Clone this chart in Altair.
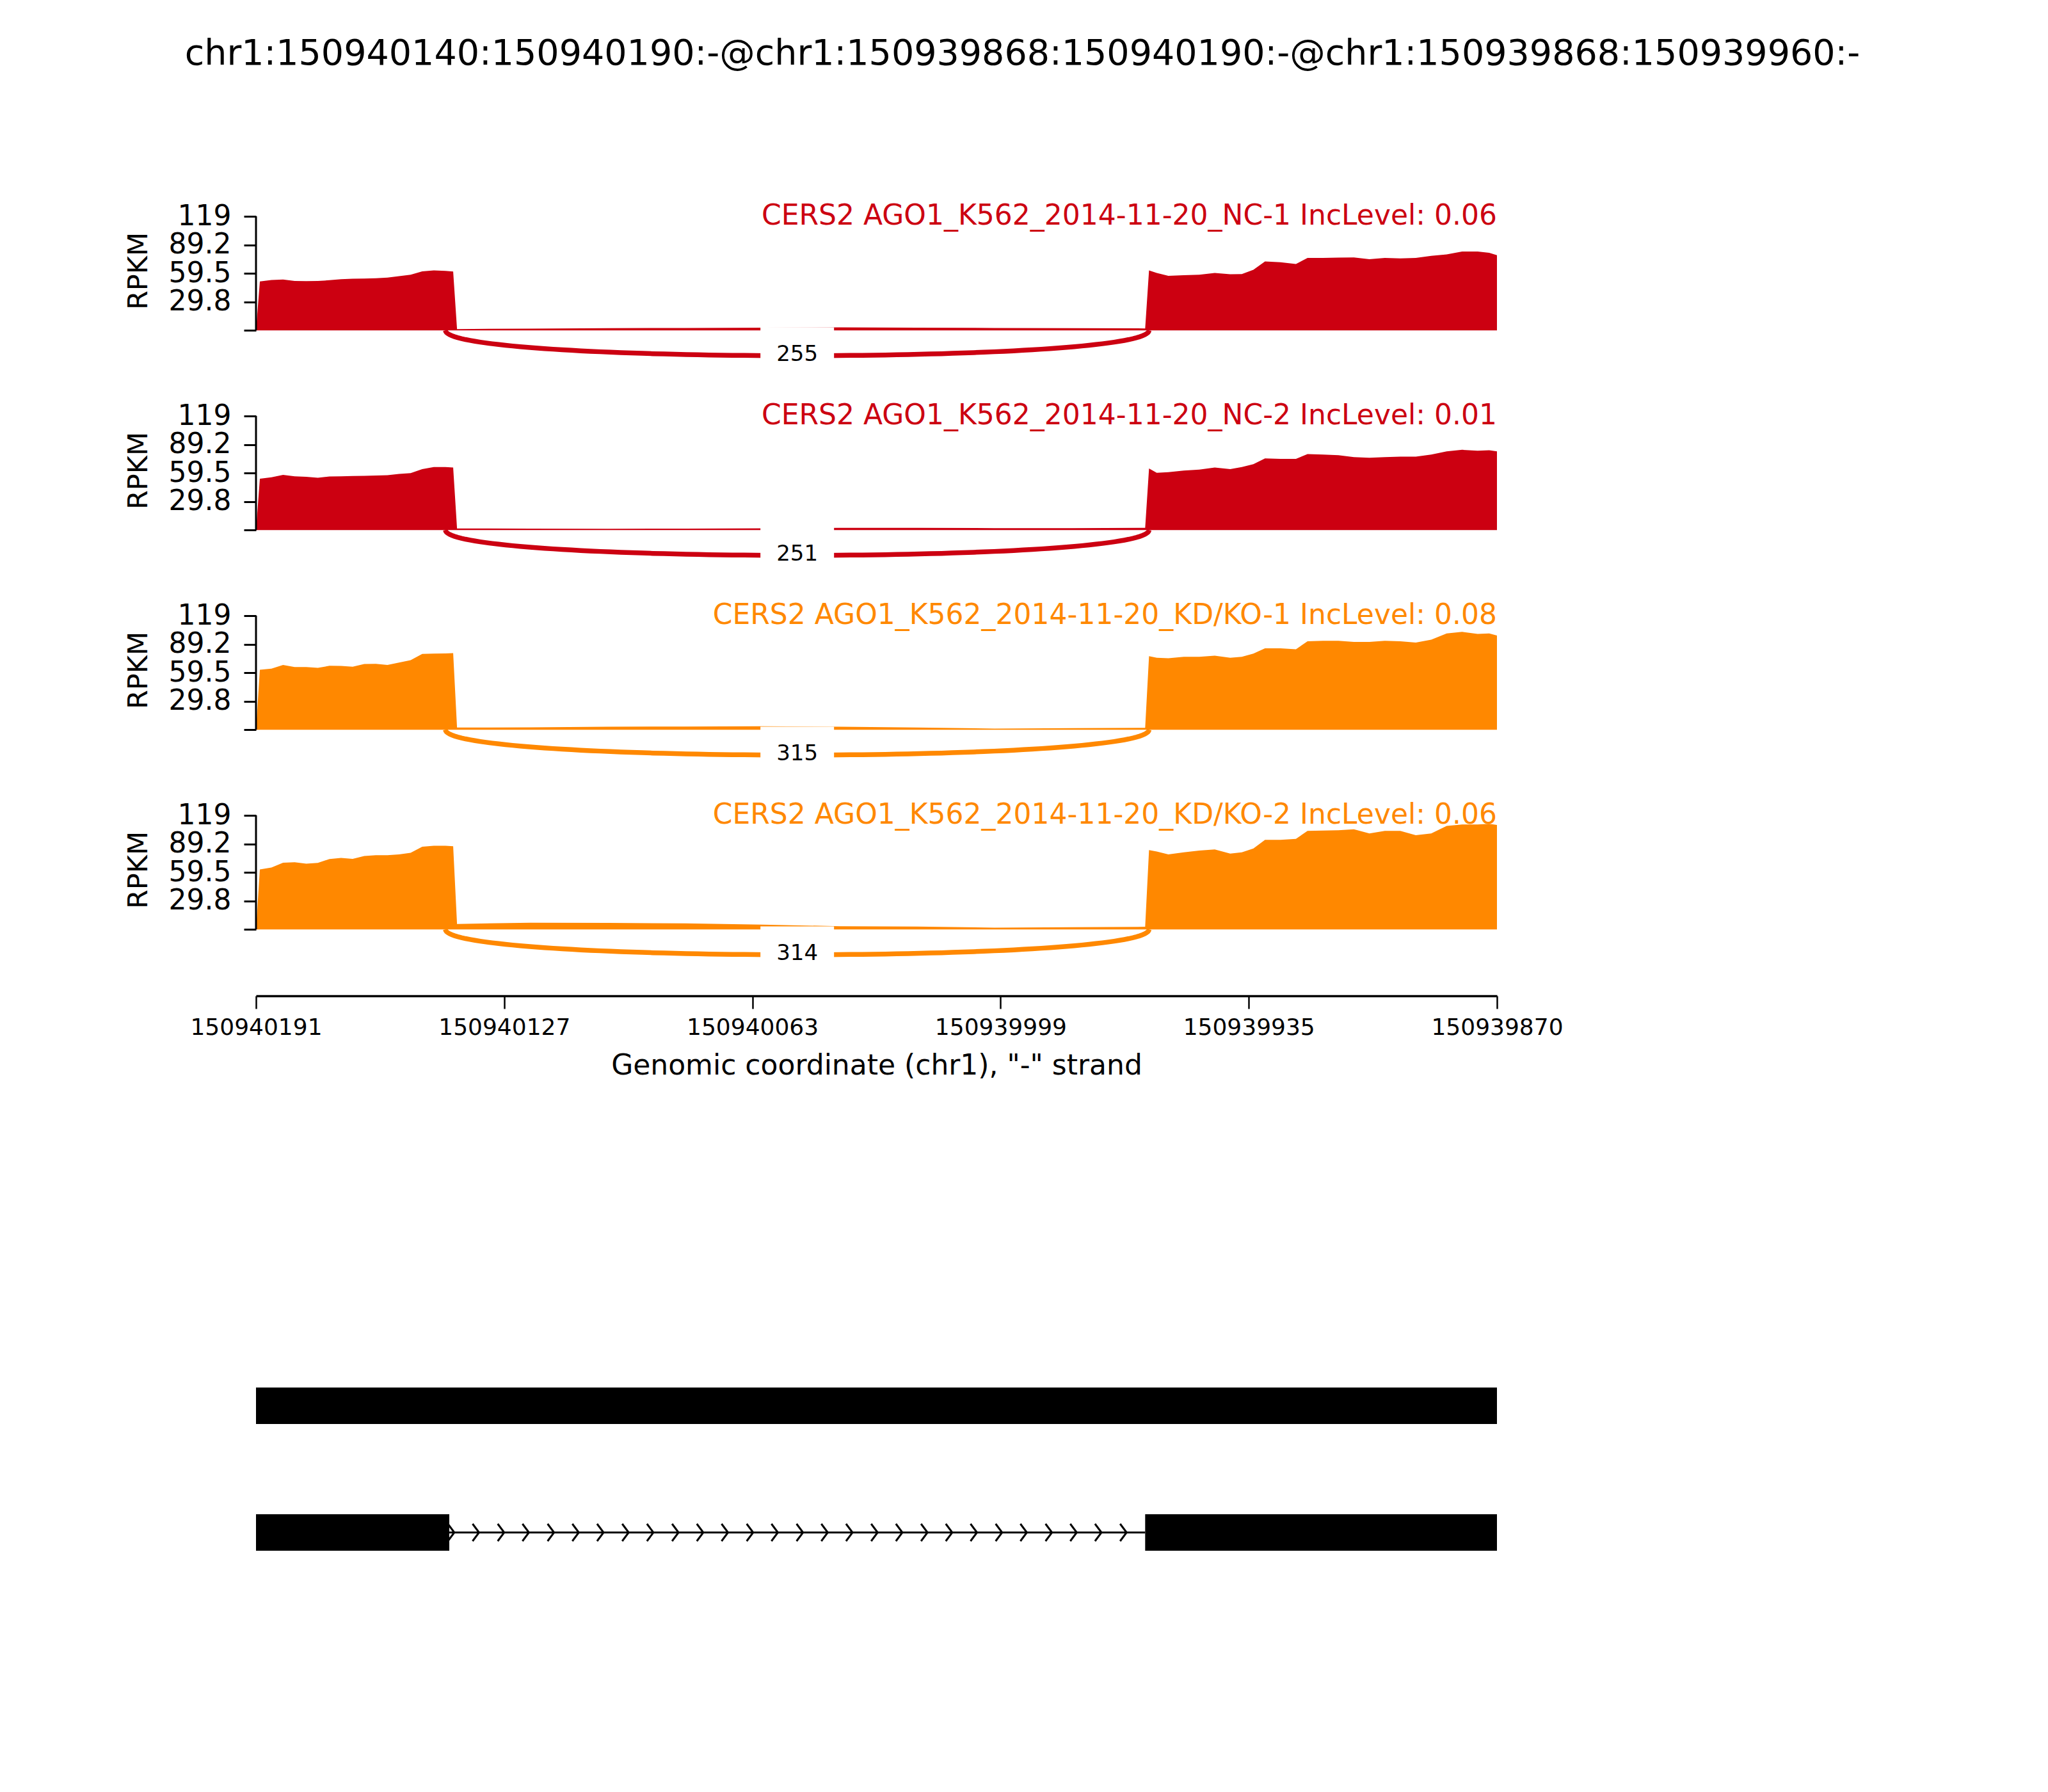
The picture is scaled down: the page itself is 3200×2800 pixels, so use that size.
import altair as alt
import numpy as np
import pandas as pd

FONT = "DejaVu Sans"

# ---------------- data ----------------
title_text = "chr1:150940140:150940190:-@chr1:150939868:150940190:-@chr1:150939868:150939960:-"

sample_labels = [
    "CERS2 AGO1_K562_2014-11-20_NC-1 IncLevel: 0.06",
    "CERS2 AGO1_K562_2014-11-20_NC-2 IncLevel: 0.01",
    "CERS2 AGO1_K562_2014-11-20_KD/KO-1 IncLevel: 0.08",
    "CERS2 AGO1_K562_2014-11-20_KD/KO-2 IncLevel: 0.06",
]
sample_colors = ["#CC0011", "#CC0011", "#FF8800", "#FF8800"]
junction_counts = [255, 251, 315, 314]
junction_left = 150940142
junction_right = 150939960

x_start = 150940191
x_end = 150939870
x_ticks = [150940191, 150940126.8, 150940062.6, 150939998.4, 150939934.2, 150939870]
x_tick_labels = ["150940191", "150940127", "150940063", "150939999", "150939935", "150939870"]
y_ticks = [0, 29.8, 59.5, 89.2, 119]
y_tick_labels = ["", "29.8", "59.5", "89.2", "119"]

exon1_pos = [150940190, 150940187, 150940184, 150940181, 150940178, 150940175,
             150940172, 150940169, 150940166, 150940163, 150940160, 150940157,
             150940154, 150940151, 150940148, 150940145, 150940142, 150940140]
intron_pos = [150940139, 150940120, 150940100, 150940080, 150940060, 150940040,
              150940020, 150940000, 150939980, 150939961]
exon2_pos = [150939960, 150939958, 150939955, 150939951, 150939947, 150939943,
             150939939, 150939936, 150939933, 150939930, 150939926, 150939922,
             150939919, 150939915, 150939911, 150939907, 150939903, 150939899,
             150939895, 150939891, 150939887, 150939883, 150939879, 150939875,
             150939872, 150939870]

exon1_cov = [
    [51.0, 52.5, 53.0, 51.5, 51.3, 51.5, 52.3, 53.3, 53.8, 54.0, 54.3, 55.0, 56.5, 58.0, 61.6, 62.5, 62.0, 61.4],
    [53.5, 55.0, 57.5, 56.0, 55.5, 54.5, 55.8, 56.0, 56.3, 56.5, 56.8, 57.2, 58.5, 59.3, 63.5, 65.8, 65.8, 65.3],
    [62.5, 63.8, 67.5, 65.4, 65.4, 64.5, 66.7, 66.5, 65.8, 68.5, 68.7, 67.5, 70.0, 72.5, 79.0, 79.4, 79.6, 79.9],
    [62.5, 64.5, 69.5, 70.0, 68.5, 69.4, 73.4, 74.5, 73.5, 76.5, 77.4, 77.4, 78.3, 80.0, 86.3, 87.2, 87.2, 86.8],
]
intron_cov = [
    [1.3, 1.8, 2.2, 2.5, 2.7, 3.1, 2.7, 2.5, 2.2, 2.0],
    [1.6, 1.5, 1.3, 1.4, 1.8, 2.2, 2.2, 2.0, 2.0, 2.2],
    [2.2, 2.4, 3.1, 3.3, 3.6, 3.1, 2.2, 1.1, 1.6, 2.0],
    [5.6, 7.0, 6.7, 6.2, 4.9, 3.3, 2.9, 1.8, 2.2, 2.7],
]
exon2_cov = [
    [62.5, 59.8, 56.9, 57.6, 58.0, 59.8, 58.5, 58.7, 63.2, 71.9, 71.0, 69.2, 75.5, 75.5, 75.9, 76.1, 74.3, 75.5, 75.0, 75.5, 77.7, 79.3, 82.2, 82.2, 81.0, 78.4],
    [64.2, 59.7, 60.4, 62.0, 63.1, 65.3, 63.5, 65.8, 68.7, 74.7, 74.3, 74.3, 79.2, 78.7, 78.1, 76.1, 75.4, 76.1, 76.5, 76.5, 78.7, 82.1, 83.7, 82.8, 83.2, 82.1],
    [76.7, 75.0, 74.5, 76.1, 76.1, 77.2, 75.0, 76.1, 79.4, 85.0, 85.0, 83.9, 92.3, 92.8, 92.8, 91.6, 91.6, 92.8, 92.3, 91.0, 93.9, 100.5, 102.1, 99.9, 100.5, 98.3],
    [82.7, 81.2, 78.3, 80.5, 82.3, 83.4, 79.0, 80.5, 84.5, 93.4, 93.4, 94.5, 102.8, 103.2, 103.4, 104.5, 100.1, 102.8, 102.8, 98.3, 100.1, 107.9, 109.4, 109.4, 110.1, 109.0],
]

# gene model: isoform, exon start, exon end (drawn left->right on "-" strand)
iso_names = ["1", "2"]
iso_exon_iso = ["1", "2", "2"]
iso_exon_start = [150940191, 150940191, 150939961]
iso_exon_end = [150939870, 150940141, 150939870]
iso_intron_iso = ["2"]
iso_intron_start = [150940141]
iso_intron_end = [150939961]
chevron_pos = [150940139.7, 150940133.3, 150940126.8, 150940120.4, 150940113.9, 150940107.5,
               150940101.1, 150940094.6, 150940088.2, 150940081.7, 150940075.3, 150940068.9,
               150940062.4, 150940056.0, 150940049.5, 150940043.1, 150940036.7, 150940030.2,
               150940023.8, 150940017.3, 150940010.9, 150940004.5, 150939998.0, 150939991.6,
               150939985.1, 150939978.7, 150939972.3, 150939965.8]

# ---------------- styling ----------------
W = 1939
PANEL_H = 238
GENE_H = 908
Y_MIN = -40
ARC_H = 35.3
LABEL_Y = -25.4
SAMPLE_TEXT_Y = 110

xscale = alt.Scale(domain=[x_end, x_start], reverse=True, nice=False, zero=False)
yscale = alt.Scale(domain=[Y_MIN, y_ticks[-1]], nice=False, zero=False)

y_label_expr = " : ".join(f"datum.value == {v} ? '{l}'" for v, l in zip(y_ticks, y_tick_labels)) + " : ''"
x_label_expr = " : ".join(f"datum.value == {v} ? '{l}'" for v, l in zip(x_ticks, x_tick_labels)) + " : ''"

box_shape = "M-1,-0.74H1V0.74H-1Z"
chev_shape = "M-0.75,-1L0,0L-0.75,1"


def panel(i, show_x):
    color = sample_colors[i]
    cov = pd.DataFrame({
        "x": [x_start] + exon1_pos + intron_pos + exon2_pos,
        "y": [0] + exon1_cov[i] + intron_cov[i] + exon2_cov[i],
    })
    if show_x:
        xaxis = alt.Axis(values=x_ticks, labelExpr=x_label_expr, grid=False,
                         domainColor="black", domainWidth=3.5, tickColor="black",
                         tickWidth=2.5, tickSize=20, labelFontSize=36, labelFont=FONT,
                         labelColor="black", labelPadding=12, labelFlush=False,
                         labelOverlap=False, labelLimit=1000,
                         title='Genomic coordinate (chr1), "-" strand', titleFontSize=44,
                         titleFont=FONT, titleFontWeight="normal", titleColor="black",
                         titlePadding=20, offset=44)
    else:
        xaxis = None
    yaxis = alt.Axis(values=y_ticks, labelExpr=y_label_expr, domain=False, grid=False,
                     tickColor="black", tickWidth=3, tickSize=19, labelFontSize=44,
                     labelFont=FONT, labelColor="black", labelPadding=20,
                     labelOverlap=False,
                     title="RPKM", titleFont=FONT, titleFontSize=43,
                     titleFontWeight="normal", titleColor="black", titleX=-184,
                     titleY=85, titleAlign="center", titleBaseline="middle", titleAngle=270)

    area = alt.Chart(cov).mark_area(color=color, interpolate="linear")

    spine_df = pd.DataFrame({"x": [x_start], "y": [y_ticks[0]], "y2": [y_ticks[-1]]})
    spine = alt.Chart(spine_df).mark_rule(color="black", strokeWidth=3).encode(y2="y2:Q")

    t = np.linspace(0, 1, 90)
    arc_x = junction_left * ((1 - t) ** 3 + 3 * (1 - t) ** 2 * t) + junction_right * (3 * (1 - t) * t ** 2 + t ** 3)
    arc_y = -ARC_H * 3 * t * (1 - t)
    arc_df = pd.DataFrame({"x": arc_x, "y": arc_y, "t": t})
    arc = alt.Chart(arc_df).mark_line(color=color, strokeWidth=7.5, strokeCap="butt").encode(
        order="t:Q")

    lab_df = pd.DataFrame({"x": [(junction_left + junction_right) / 2], "y": [LABEL_Y],
                           "n": [str(junction_counts[i])]})
    box = alt.Chart(lab_df).mark_point(shape=box_shape, size=13225, filled=True,
                                       color="white", opacity=1, strokeWidth=0)
    lab = alt.Chart(lab_df).mark_text(fontSize=34, font=FONT, color="black",
                                      align="center", baseline="middle").encode(text="n:N")

    st_df = pd.DataFrame({"x": [x_end], "y": [SAMPLE_TEXT_Y], "s": [sample_labels[i]]})
    stext = alt.Chart(st_df).mark_text(fontSize=44, font=FONT, color=color,
                                       align="right", baseline="alphabetic").encode(text="s:N")
    return alt.layer(area, spine, arc, box, lab, stext).encode(
        x=alt.X("x:Q", scale=xscale, axis=xaxis),
        y=alt.Y("y:Q", scale=yscale, axis=yaxis),
    ).properties(width=W, height=PANEL_H)


panels = [panel(i, i == 3) for i in range(4)]

# gene model panel
iscale = alt.Scale(domain=iso_names, paddingInner=0.712, paddingOuter=0.356,
                   range=[511.5, 907.5])
ex_df = pd.DataFrame({"iso": iso_exon_iso, "x": iso_exon_start, "x2": iso_exon_end})
in_df = pd.DataFrame({"iso": iso_intron_iso, "x": iso_intron_start, "x2": iso_intron_end})
ch_df = pd.DataFrame({"iso": ["2"] * len(chevron_pos), "x": chevron_pos})

exons = alt.Chart(ex_df).mark_bar(color="black").encode(x2="x2:Q")
introns = alt.Chart(in_df).mark_rule(color="black", strokeWidth=3).encode(x2="x2:Q")
chevs = alt.Chart(ch_df).mark_point(shape=chev_shape, size=729, filled=False,
                                    color="black", strokeWidth=3, opacity=1)
gene = alt.layer(exons, introns, chevs).encode(
    x=alt.X("x:Q", scale=xscale, axis=None),
    y=alt.Y("iso:N", scale=iscale, axis=None),
).properties(width=W, height=GENE_H)

chart = alt.vconcat(*panels, gene, spacing=74, bounds="flush").properties(
    title=alt.TitleParams(title_text, fontSize=55.5, font=FONT, fontWeight="normal",
                          color="black", anchor="middle", frame="group", dx=228,
                          offset=160, baseline="alphabetic"),
    padding={"left": 187, "top": 48, "right": 20, "bottom": 20},
    background="white",
).configure(font=FONT, view=alt.ViewConfig(stroke=None))

chart.save("out.html", embed_options={"renderer": "svg", "actions": False})
